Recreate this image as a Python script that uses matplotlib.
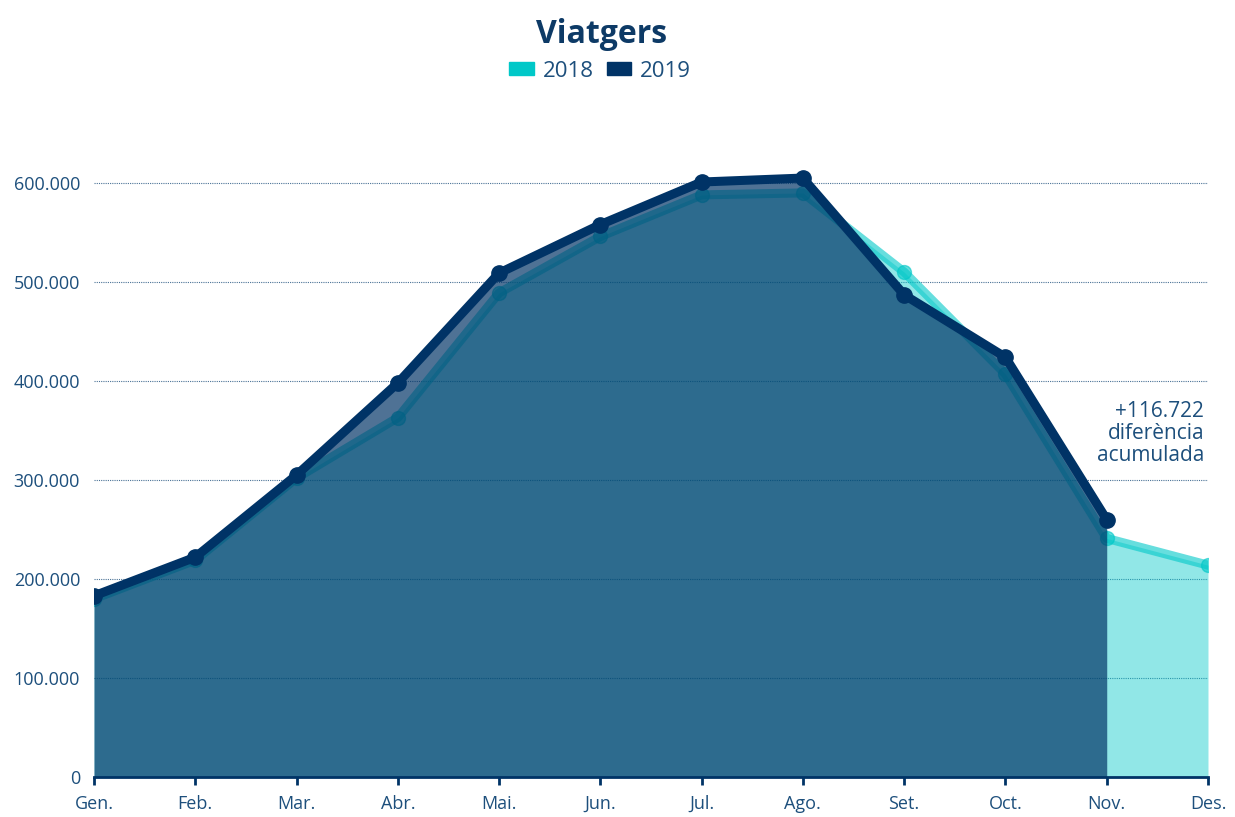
import matplotlib
matplotlib.use("Agg")
import matplotlib.pyplot as plt
from matplotlib.patches import Patch
import numpy as np

plt.rcParams['font.family'] = ['Open Sans', 'DejaVu Sans']

months = ['Gen.', 'Feb.', 'Mar.', 'Abr.', 'Mai.', 'Jun.', 'Jul.', 'Ago.', 'Set.', 'Oct.', 'Nov.', 'Des.']
v2018 = [180000, 219000, 302000, 363000, 489000, 546000, 588000, 590000, 510000, 407000, 241000, 214000]
v2019 = [183000, 222000, 305000, 398000, 509000, 558000, 601000, 605000, 487000, 424000, 260000]
yticks = [0, 100000, 200000, 300000, 400000, 500000, 600000]
ytick_labels = ['0', '100.000', '200.000', '300.000', '400.000', '500.000', '600.000']
title = 'Viatgers'
annotation = '+116.722\ndiferència\nacumulada'

C18 = '#00c8c8'
C19 = '#003366'
TXT = '#1d4f7c'

fig = plt.figure(figsize=(12.35, 8.17), dpi=100)
ax = fig.add_axes([94/1235, 40/817, 1114/1235, 643.5/817])

x18 = np.arange(len(v2018))
x19 = np.arange(len(v2019))

ax.fill_between(x18, 0, v2018, color=C18, alpha=0.43, linewidth=0, zorder=2)
ax.plot(x18, v2018, color=C18, alpha=0.6, lw=6.5, marker='o', ms=10,
        solid_joinstyle='round', zorder=3)
ax.fill_between(x19, 0, v2019, color=C19, alpha=0.69, linewidth=0, zorder=4)
ax.plot(x19, v2019, color=C19, lw=6.5, marker='o', ms=11,
        solid_joinstyle='round', zorder=5)

ax.set_xlim(0, len(months) - 1)
ax.set_ylim(0, 650000)
ax.set_xticks(x18)
ax.set_xticklabels(months)
ax.set_yticks(yticks)
ax.set_yticklabels(ytick_labels)

for y in yticks[1:]:
    ax.axhline(y, color=TXT, lw=0.8, ls=(0, (1, 1)), alpha=0.8, zorder=1)

for s in ['top', 'right', 'left']:
    ax.spines[s].set_visible(False)
ax.spines['bottom'].set_color(C19)
ax.spines['bottom'].set_linewidth(2)
ax.spines['bottom'].set_zorder(6)
ax.tick_params(axis='x', colors=C19, length=6, width=2, labelsize=13, pad=7, labelcolor=TXT)
ax.tick_params(axis='y', length=0, labelsize=13, pad=10, labelcolor=TXT)

ax.text(0.9965, 0.584, annotation, transform=ax.transAxes, ha='right', va='top',
        fontsize=15, color=TXT, linespacing=1.05, zorder=7)

fig.text(0.487, 0.958, title, ha='center', va='center', fontsize=23,
         fontweight='bold', color='#0d3a66')
handles = [Patch(color=C18, label='2018'), Patch(color='#003366', label='2019')]
fig.legend(handles=handles, loc='center', bbox_to_anchor=(0.486, 0.913), ncol=2,
           frameon=False, fontsize=16, handlelength=1.1, handleheight=0.5,
           handletextpad=0.4, columnspacing=0.6, labelcolor=TXT)

fig.savefig('out.png', dpi=100, facecolor='white')
